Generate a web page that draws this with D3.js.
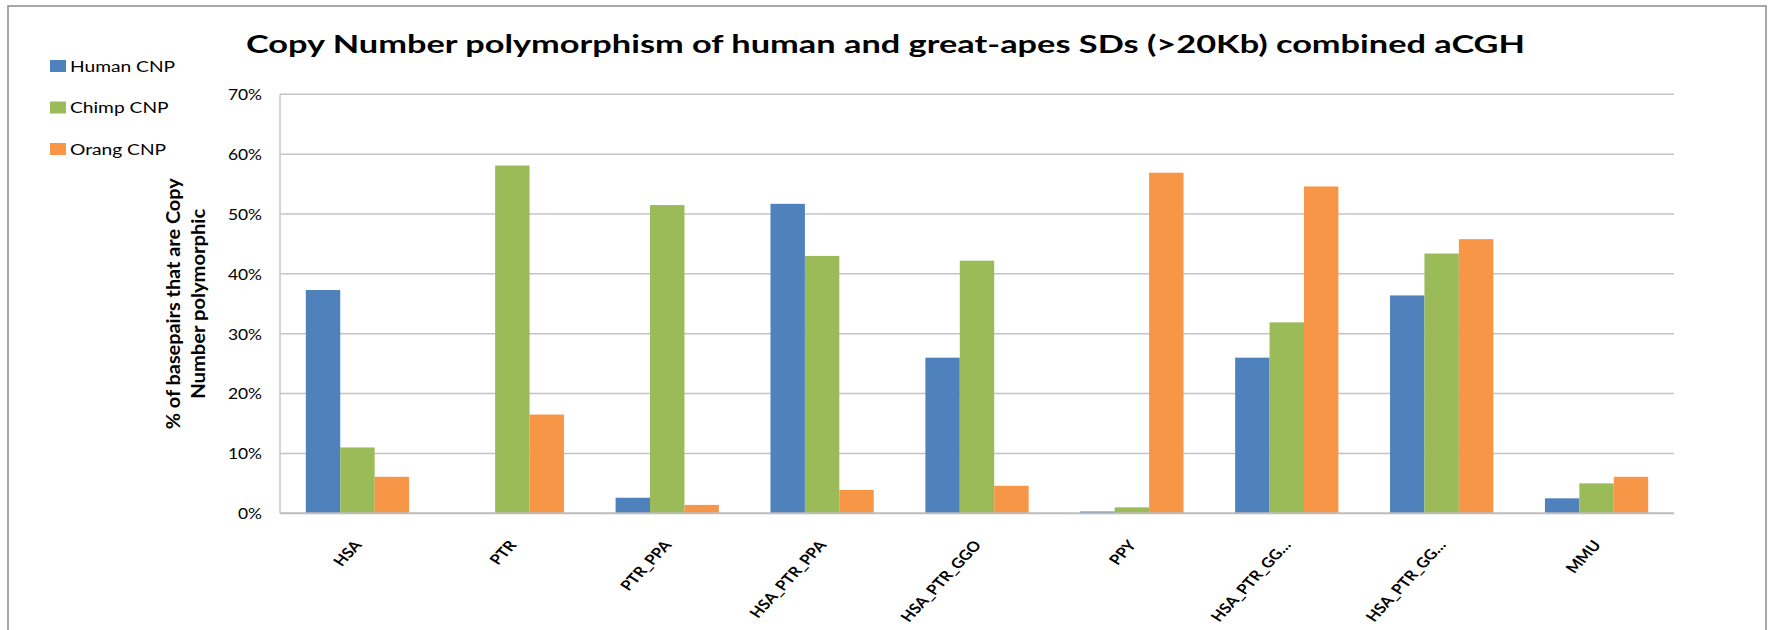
<!DOCTYPE html>
<html>
<head>
<meta charset="utf-8">
<script src="https://cdn.jsdelivr.net/npm/d3@7"></script>
<style>
  body { margin: 0; background: #fff; }
  svg { display: block; }
  text { font-family: Lato, "Open Sans", sans-serif; fill: #000; }
</style>
</head>
<body>
<svg id="chart" width="1770" height="630"></svg>
<script>
// values (percent of basepairs)
const categories = ["HSA", "PTR", "PTR_PPA", "HSA_PTR_PPA", "HSA_PTR_GGO", "PPY", "HSA_PTR_GG\u2026", "HSA_PTR_GG\u2026", "MMU"];
const humanCNP = [37.3, 0, 2.6, 51.7, 26.0, 0.3, 26.0, 36.4, 2.5];
const chimpCNP = [11.0, 58.1, 51.5, 43.0, 42.2, 1.0, 31.9, 43.4, 5.0];
const orangCNP = [6.1, 16.5, 1.4, 3.9, 4.6, 56.9, 54.6, 45.8, 6.1];
const seriesNames = ["Human CNP", "Chimp CNP", "Orang CNP"];
const yTicks = [0, 10, 20, 30, 40, 50, 60, 70];

function draw() {
    const svg = d3.select("#chart");
    const colors = ["#4F81BD", "#9BBB59", "#F79646"];
    const series = [humanCNP, chimpCNP, orangCNP];
    const sx = 1.2; // the picture is stretched sideways

    const plot = { left: 280, right: 1674, top: 94.3, bottom: 513.3 };

    // outer frame
    svg.append("rect")
        .attr("x", 8).attr("y", 6)
        .attr("width", 1758).attr("height", 640)
        .attr("fill", "none")
        .attr("stroke", "#8a8a8a")
        .attr("stroke-width", 1.5);

    const x = d3.scaleBand()
        .domain(d3.range(categories.length))
        .range([plot.left, plot.right]);

    const xInner = d3.scaleBand()
        .domain(d3.range(series.length))
        .range([0, x.bandwidth()])
        .paddingInner(0)
        .paddingOuter(0.75);

    const y = d3.scaleLinear()
        .domain([0, 70])
        .range([plot.bottom, plot.top]);

    // gridlines
    svg.append("g")
        .selectAll("line")
        .data(yTicks.filter(d => d > 0))
        .join("line")
        .attr("x1", plot.left).attr("x2", plot.right)
        .attr("y1", d => y(d)).attr("y2", d => y(d))
        .attr("stroke", "#c4c4c4")
        .attr("stroke-width", 1.5);

    // y axis line
    svg.append("line")
        .attr("x1", plot.left).attr("x2", plot.left)
        .attr("y1", plot.top).attr("y2", plot.bottom)
        .attr("stroke", "#c4c4c4")
        .attr("stroke-width", 1.5);

    // bars
    const groups = svg.append("g")
        .selectAll("g")
        .data(series)
        .join("g")
        .attr("fill", (d, i) => colors[i]);

    groups.selectAll("rect")
        .data((vals, si) => vals.map((v, ci) => ({ v, ci, si })))
        .join("rect")
        .attr("x", d => x(d.ci) + xInner(d.si))
        .attr("width", xInner.bandwidth())
        .attr("y", d => y(d.v))
        .attr("height", d => y(0) - y(d.v));

    // baseline
    svg.append("line")
        .attr("x1", plot.left).attr("x2", plot.right)
        .attr("y1", y(0)).attr("y2", y(0))
        .attr("stroke", "#bdbdbd")
        .attr("stroke-width", 2);

    // y tick labels
    svg.append("g")
        .selectAll("text")
        .data(yTicks)
        .join("text")
        .attr("transform", d => `translate(262,${y(d)}) scale(${sx},1)`)
        .attr("text-anchor", "end")
        .attr("dominant-baseline", "central")
        .attr("font-size", 14.5)
        .attr("fill", "#404040")
        .text(d => d + "%");

    // category labels
    svg.append("g")
        .selectAll("text")
        .data(categories)
        .join("text")
        .attr("transform", (d, i) => `translate(${x(i) + x.bandwidth() / 2 + 5},${plot.bottom + 32}) scale(${sx},1) rotate(-52)`)
        .attr("text-anchor", "end")
        .attr("font-size", 14)
        .attr("font-weight", "bold")
        .text(d => d);

    // y axis title, two lines
    const yTitle = ["% of basepairs that are Copy", "Number polymorphic"];
    const yTitleLen = [251, 190];
    const midY = (plot.top + plot.bottom) / 2;
    svg.append("g")
        .selectAll("text")
        .data(yTitle)
        .join("text")
        .attr("transform", (d, i) => `translate(${173 + i * 25},${midY}) scale(${sx},1) rotate(-90)`)
        .attr("text-anchor", "middle")
        .attr("dominant-baseline", "central")
        .attr("font-size", 16)
        .attr("font-weight", "bold")
        .attr("textLength", (d, i) => yTitleLen[i])
        .attr("lengthAdjust", "spacingAndGlyphs")
        .text(d => d);

    // title
    svg.append("text")
        .attr("x", 246)
        .attr("y", 53)
        .attr("font-size", 25)
        .attr("font-weight", "bold")
        .attr("textLength", 1279)
        .attr("lengthAdjust", "spacingAndGlyphs")
        .text("Copy Number polymorphism of human and great-apes SDs (>20Kb) combined aCGH");

    // legend
    const legend = svg.append("g")
        .selectAll("g")
        .data(seriesNames)
        .join("g")
        .attr("transform", (d, i) => `translate(50,${66 + i * 41.5})`);

    legend.append("rect")
        .attr("x", 0).attr("y", -6)
        .attr("width", 16).attr("height", 12)
        .attr("fill", (d, i) => colors[i]);

    legend.append("text")
        .attr("transform", `translate(20,0) scale(${sx},1)`)
        .attr("dominant-baseline", "central")
        .attr("font-size", 16)
        .attr("fill", "#404040")
        .text(d => d);
}

draw();
</script>
</body>
</html>
